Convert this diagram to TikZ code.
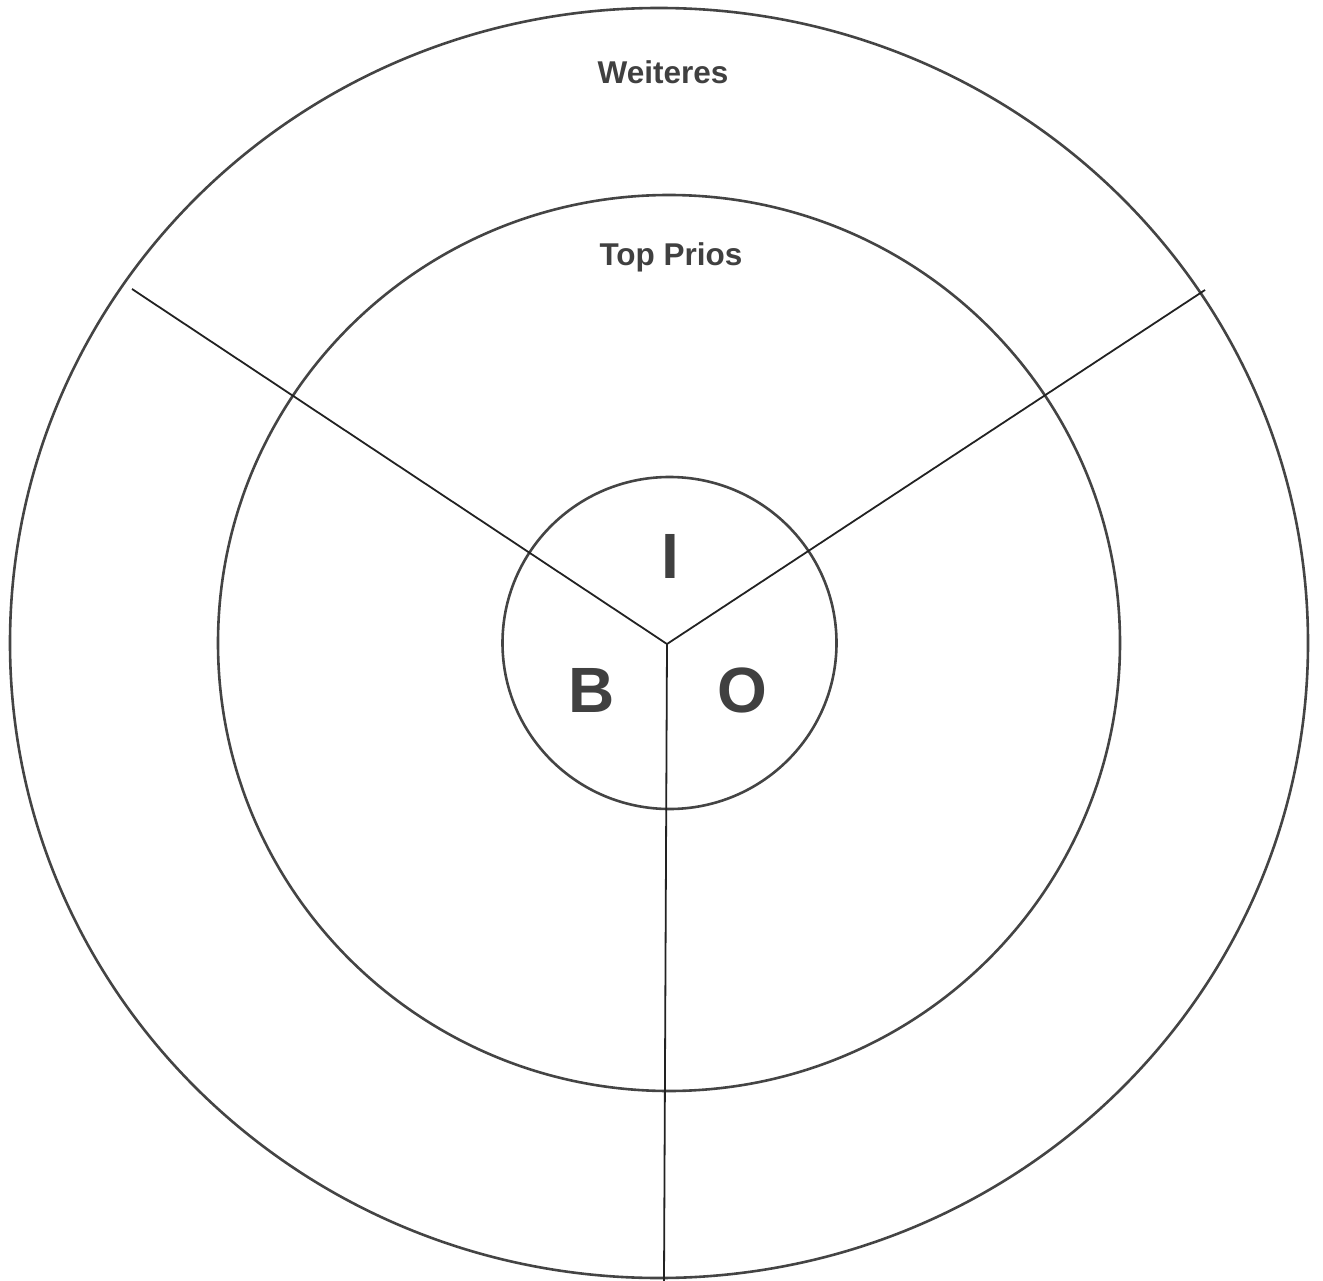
\documentclass[tikz,border=0pt]{standalone}
\usepackage{fontspec}
\setmainfont{Liberation Sans}
\definecolor{ring}{HTML}{444444}
\definecolor{txt}{HTML}{404040}
\definecolor{spoke}{HTML}{222222}
\begin{document}
\begin{tikzpicture}[x=1pt,y=-1pt,
  ringstyle/.style={draw=ring,line width=2.6pt},
  spokestyle/.style={draw=spoke,line width=1.8pt},
  label/.style={text=txt,font=\bfseries\fontsize{31.5}{36}\selectfont,inner sep=0pt},
  biglabel/.style={text=txt,font=\bfseries\fontsize{64}{70}\selectfont,inner sep=0pt}]
\useasboundingbox (0,0) rectangle (1323,1281);
\draw[ringstyle] (659,643) ellipse [x radius=649, y radius=635];
\draw[ringstyle] (669,643) ellipse [x radius=451, y radius=448];
\draw[ringstyle] (669.5,643) ellipse [x radius=167, y radius=166];
\coordinate (c) at (667,644);
\coordinate (ul) at (132,289);
\coordinate (ur) at (1205,290);
\coordinate (dn) at (664,1281);
\draw[spokestyle] (c) -- (ul);
\draw[spokestyle] (c) -- (ur);
\draw[spokestyle] (c) -- (dn);
\node[label] (w) at (663,72) {Weiteres};
\node[label] (t) at (671,257) {Top Prios};
\node[biglabel] (i) at (670,556) {I};
\node[biglabel] (b) at (592,690) {B};
\node[biglabel] (o) at (742,690) {O};
\end{tikzpicture}
\end{document}
